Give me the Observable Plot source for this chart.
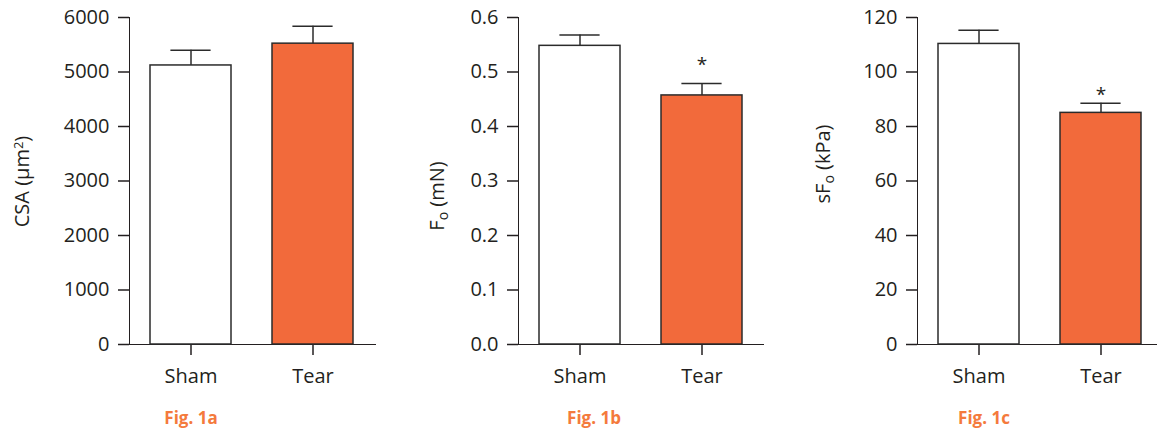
<!DOCTYPE html>
<html>
<head>
<meta charset="utf-8">
<script src="https://cdn.jsdelivr.net/npm/d3@7"></script>
<script src="https://cdn.jsdelivr.net/npm/@observablehq/plot@0.6"></script>
<style>
  html, body { margin: 0; padding: 0; background: #fff; overflow: hidden; }
  #wrap { position: relative; width: 1157px; height: 432px; overflow: hidden; font-family: "Open Sans", sans-serif; }
  #wrap svg { position: absolute; top: 0; overflow: visible; }
  #wrap svg [aria-label$="tick"], #wrap svg [aria-label$="axis line"] { stroke-width: 1.5; }
  .cap { position: absolute; top: 409px; transform: translateX(-50%); font: bold 17px "Open Sans", sans-serif; line-height: 1; color: #F47A3C; white-space: nowrap; }
</style>
</head>
<body>
<div id="wrap"></div>
<script>
// ---- data ----
const groups = ["Sham", "Tear"];
const groupFill = ["#ffffff", "#F26A3B"];

const csaMean = [5120, 5520];
const csaErr = [280, 320];
const csaTicks = [0, 1000, 2000, 3000, 4000, 5000, 6000];

const foMean = [0.548, 0.457];
const foErr = [0.020, 0.022];
const foTicks = [0, 0.1, 0.2, 0.3, 0.4, 0.5, 0.6];

const sfoMean = [110.3, 85.0];
const sfoErr = [5.0, 3.5];
const sfoTicks = [0, 20, 40, 60, 80, 100, 120];

const foStar = [{group: "Tear", y: 0.523}];
const sfoStar = [{group: "Tear", y: 93.4}];

const captions = ["Fig. 1a", "Fig. 1b", "Fig. 1c"];

const wrap = document.getElementById("wrap");
const ink = "#231f20";

function panel({left, width, marginLeft, marginRight, means, errs, ticks, domain, fmt, stars, label, labelX, labelY}) {
  const rows = groups.map((g, i) => ({group: g, mean: means[i], top: means[i] + errs[i], fill: groupFill[i]}));
  const marks = [
    Plot.ruleX(rows, {x: "group", y1: "mean", y2: "top", stroke: "#2b2b2b", strokeWidth: 1.5}),
    Plot.tickY(rows, {x: "group", y: "top", stroke: "#2b2b2b", strokeWidth: 1.5, insetLeft: 20.4, insetRight: 20.4}),
    Plot.barY(rows, {x: "group", y: "mean", fill: "fill", stroke: "#2b2b2b", strokeWidth: 1.5}),
  ];
  if (stars) marks.push(Plot.text(stars, {x: "group", y: "y", text: () => "*", fontSize: 19, dy: 5, fill: ink}));
  const svg = Plot.plot({
    width, height: 395,
    marginLeft, marginRight, marginTop: 17, marginBottom: 51,
    style: {fontSize: "20px", fontFamily: "Open Sans, sans-serif", color: ink, background: "transparent"},
    x: {domain: groups, paddingInner: 0.334, paddingOuter: 0.17, tickSize: 11, tickPadding: 13, label: null, line: true},
    y: {domain, ticks, tickFormat: fmt, tickSize: 11, tickPadding: 9, label: null, line: true},
    color: {type: "identity"},
    marks
  });
  svg.style.left = left + "px";
  const t = d3.select(svg).append("text")
    .attr("transform", `translate(${labelX},${labelY}) rotate(-90)`)
    .attr("text-anchor", "middle")
    .attr("dy", "0.35em")
    .attr("fill", ink)
    .style("font-size", "20px")
    .style("font-family", "Open Sans, sans-serif");
  label.forEach(([s, kind]) => {
    const ts = t.append("tspan").text(s);
    if (kind === "sub") ts.attr("baseline-shift", "-30%").style("font-size", "14px");
    if (kind === "sup") ts.attr("baseline-shift", "45%").style("font-size", "13px");
  });
  wrap.appendChild(svg);
}

panel({left: 0, width: 385, marginLeft: 129, marginRight: 10, means: csaMean, errs: csaErr,
  ticks: csaTicks, domain: [0, 6000], fmt: d3.format("d"), stars: null,
  label: [["CSA (μm"], ["2", "sup"], [")"]], labelX: 22, labelY: 181.5});

panel({left: 400, width: 373, marginLeft: 118, marginRight: 10, means: foMean, errs: foErr,
  ticks: foTicks, domain: [0, 0.6], fmt: d3.format(".1f"), stars: foStar,
  label: [["F"], ["o", "sub"], [" (mN)"]], labelX: 36.7, labelY: 196});

panel({left: 780, width: 382, marginLeft: 137, marginRight: 0, means: sfoMean, errs: sfoErr,
  ticks: sfoTicks, domain: [0, 120], fmt: d3.format("d"), stars: sfoStar,
  label: [["sF"], ["o", "sub"], [" (kPa)"]], labelX: 43.3, labelY: 164});

const capX = [191, 594, 984];
captions.forEach((c, i) => {
  const d = document.createElement("div");
  d.className = "cap";
  d.style.left = capX[i] + "px";
  d.textContent = c;
  wrap.appendChild(d);
});
</script>
</body>
</html>
